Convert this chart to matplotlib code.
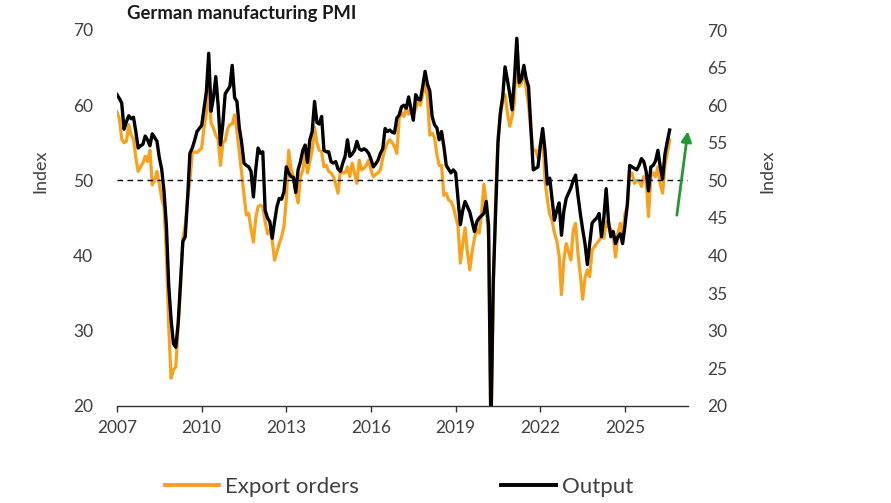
import matplotlib
matplotlib.use("Agg")
import matplotlib.pyplot as plt
from matplotlib.lines import Line2D

plt.rcParams['font.family'] = ['Lato', 'DejaVu Sans']

# monthly PMI readings, Jan 2007 onwards (one row per year)
start_year = 2007
output = [
    61.4, 60.9, 60.3, 56.8, 57.8, 58.6, 58.2, 58.4, 56.5, 54.3, 54.6, 54.8,  # 2007
    55.9, 55.4, 54.6, 56.2, 55.7, 55.2, 53.0, 51.5, 48.5, 44.0, 36.0, 31.5,  # 2008
    28.3, 27.8, 31.0, 36.5, 41.9, 42.5, 47.5, 53.6, 54.3, 55.3, 56.5, 56.9,  # 2009
    57.3, 59.5, 61.8, 66.9, 59.2, 61.0, 63.8, 60.0, 54.7, 57.5, 61.5, 62.0,  # 2010
    62.5, 65.3, 61.0, 60.5, 57.0, 55.0, 52.3, 52.0, 51.8, 51.2, 47.8, 51.5,  # 2011
    54.3, 53.6, 53.8, 46.0, 45.0, 44.5, 42.3, 44.5, 46.5, 47.6, 47.5, 48.5,  # 2012
    51.8, 51.0, 50.5, 50.4, 48.4, 51.4, 52.5, 54.0, 54.7, 52.4, 55.4, 56.5,  # 2013
    60.5, 57.7, 57.5, 58.5, 54.0, 53.8, 53.8, 52.5, 52.3, 52.5, 51.5, 51.2,  # 2014
    52.3, 53.2, 55.4, 53.2, 53.5, 54.0, 55.2, 54.2, 54.0, 54.2, 54.0, 53.6,  # 2015
    52.8, 51.8, 52.2, 52.7, 53.6, 54.2, 56.9, 56.5, 56.7, 56.4, 56.3, 58.3,  # 2016
    58.7, 59.8, 60.0, 59.6, 61.1, 59.5, 58.0, 61.4, 60.8, 60.7, 62.5, 64.5,  # 2017
    62.8, 61.9, 58.5, 57.4, 57.0, 55.4, 56.5, 54.5, 52.0, 51.5, 51.0, 51.4,  # 2018
    51.0, 47.5, 44.1, 46.0, 47.2, 46.5, 45.8, 44.5, 43.2, 44.5, 45.0, 45.3,  # 2019
    45.6, 47.2, 44.0, 16.8, 36.6, 46.0, 55.0, 59.0, 61.1, 65.1, 63.4, 61.5,  # 2020
    59.4, 63.5, 68.9, 63.0, 63.5, 65.3, 63.5, 62.5, 57.0, 51.4, 51.6, 51.8,  # 2021
    54.5, 56.9, 54.0, 49.5, 50.3, 47.5, 44.7, 46.0, 47.0, 42.7, 45.9, 47.6,  # 2022
    48.3, 49.0, 50.0, 50.7, 48.0, 45.6, 43.5, 41.6, 38.8, 41.5, 44.3, 44.7,  # 2023
    45.0, 45.6, 42.5, 45.0, 48.9, 44.5, 42.5, 43.2, 41.6, 42.5, 42.9, 41.6,  # 2024
    44.0, 46.8, 52.0, 51.8, 51.6, 51.4, 52.0, 52.9, 52.5, 51.2, 48.6, 51.8,  # 2025
    52.0, 52.6, 54.0, 51.8, 50.2, 53.5, 55.2, 56.7,                          # 2026
]
export_orders = [
    59.1, 58.2, 55.5, 55.0, 55.2, 57.4, 56.0, 55.6, 53.0, 51.2, 51.8, 52.3,  # 2007
    53.2, 52.5, 54.0, 49.4, 50.0, 51.2, 49.5, 47.6, 46.5, 40.0, 30.5, 23.7,  # 2008
    24.8, 25.2, 30.5, 35.5, 42.3, 44.0, 47.5, 50.0, 53.6, 53.8, 53.7, 54.0,  # 2009
    54.3, 57.0, 59.0, 62.3, 57.6, 57.0, 56.0, 55.5, 52.0, 55.0, 55.3, 56.8,  # 2010
    57.4, 57.5, 58.7, 56.5, 53.8, 51.0, 48.1, 45.4, 45.6, 43.5, 41.8, 45.0,  # 2011
    46.5, 46.7, 46.5, 44.5, 42.9, 43.4, 42.0, 39.4, 40.5, 41.6, 42.5, 43.9,  # 2012
    47.5, 54.0, 51.5, 50.5, 48.5, 47.0, 50.5, 51.4, 53.6, 51.0, 52.5, 54.0,  # 2013
    57.1, 55.0, 54.0, 53.8, 51.8, 52.0, 51.2, 51.0, 50.5, 49.5, 48.3, 51.4,  # 2014
    51.0, 51.0, 51.8, 50.5, 52.3, 51.0, 49.6, 52.7, 51.4, 51.6, 52.0, 52.7,  # 2015
    51.4, 50.5, 50.8, 51.0, 51.4, 53.0, 54.2, 55.0, 55.4, 55.0, 54.5, 53.6,  # 2016
    58.3, 59.0, 58.5, 59.6, 58.8, 59.4, 58.7, 59.5, 60.5, 60.0, 61.5, 62.7,  # 2017
    61.1, 56.0, 56.3, 55.7, 53.5, 52.0, 52.0, 48.0, 48.3, 47.4, 47.2, 46.5,  # 2018
    45.2, 44.0, 39.0, 41.5, 43.7, 40.5, 38.1, 40.5, 42.3, 43.5, 43.0, 45.5,  # 2019
    49.5, 47.0, 42.0, 15.5, 35.0, 48.0, 55.6, 58.5, 60.5, 61.4, 59.0, 57.2,  # 2020
    58.5, 60.3, 68.7, 62.5, 63.0, 64.8, 62.0, 60.0, 56.5, 54.0, 54.0, 53.0,  # 2021
    55.0, 56.5, 50.0, 47.4, 45.5, 44.7, 43.0, 42.0, 40.0, 34.8, 39.4, 41.6,  # 2022
    40.5, 39.4, 43.4, 44.3, 40.3, 37.5, 34.2, 37.0, 38.1, 37.2, 40.7, 41.2,  # 2023
    41.6, 42.0, 42.5, 42.3, 44.5, 43.8, 43.5, 42.5, 39.8, 43.0, 44.3, 42.5,  # 2024
    45.6, 46.5, 50.8, 51.0, 49.6, 50.0, 50.0, 49.2, 50.5, 50.0, 45.2, 50.5,  # 2025
    51.0, 50.5, 51.8, 49.5, 48.3, 52.0, 53.6, 55.4,                          # 2026
]
tick_years = [2007, 2010, 2013, 2016, 2019, 2022, 2025]

orange = '#F9A11B'
text_col = '#404040'

fig = plt.figure(figsize=(8.91, 5.03), dpi=100)
ax = fig.add_axes([117/891, 1 - 406/503, 571/891, 376/503])

months = list(range(len(output)))
ax.plot(months, export_orders, color=orange, lw=2.3, label='Export orders',
        solid_joinstyle='round')
ax.plot(months, output, color='black', lw=2.4, label='Output',
        solid_joinstyle='round')
ax.axhline(50, color='black', lw=1.0, dashes=(4, 3.2))

ax.set_xlim(0, 242.8)
ax.set_ylim(20, 70)
ax.set_yticks(range(20, 71, 10))
ax.set_xticks([(y - start_year) * 12 for y in tick_years])
ax.set_xticklabels([str(y) for y in tick_years])

for s in ['left', 'right', 'top']:
    ax.spines[s].set_visible(False)
ax.spines['bottom'].set_color('#333333')
ax.spines['bottom'].set_linewidth(1.0)
ax.tick_params(axis='x', direction='out', length=4, width=1, color='#333333',
               labelsize=12.5, labelcolor=text_col, pad=6)
ax.tick_params(axis='y', length=0, labelsize=12.5, labelcolor=text_col, pad=17)
ax.set_ylabel('Index', fontsize=13, color=text_col)
ax.yaxis.set_label_coords(-0.12, 0.625)

ax2 = ax.twinx()
ax2.set_ylim(20, 70)
ax2.set_yticks(range(20, 71, 5))
for s in ax2.spines.values():
    s.set_visible(False)
ax2.tick_params(axis='y', length=0, labelsize=12.5, labelcolor=text_col, pad=14)
ax2.set_ylabel('Index', fontsize=13, color=text_col, rotation=90)
ax2.yaxis.set_label_coords(1.125, 0.625)

# green arrow pointing up at the end
ax.annotate('', xy=(242.9, 56.9), xytext=(237.9, 45.0),
            arrowprops=dict(arrowstyle='-|>,head_length=0.6,head_width=0.3',
                            color='#1E9A2E', lw=2.0),
            annotation_clip=False)

fig.text(127/891, 1 - 14/503, 'German manufacturing PMI', fontsize=13.3,
         fontweight='bold', color='#1a1a1a', va='center', ha='left')

handles = [Line2D([], [], color=orange, lw=2.8),
           Line2D([], [], color='black', lw=2.8)]
fig.legend(handles, ['Export orders', 'Output'], loc='center',
           bbox_to_anchor=(399/891, 1 - 487/503), ncol=2, frameon=False,
           fontsize=16, handlelength=2.45, handletextpad=0.27,
           columnspacing=6.4, labelcolor=text_col)

fig.savefig('out.png', dpi=100)
